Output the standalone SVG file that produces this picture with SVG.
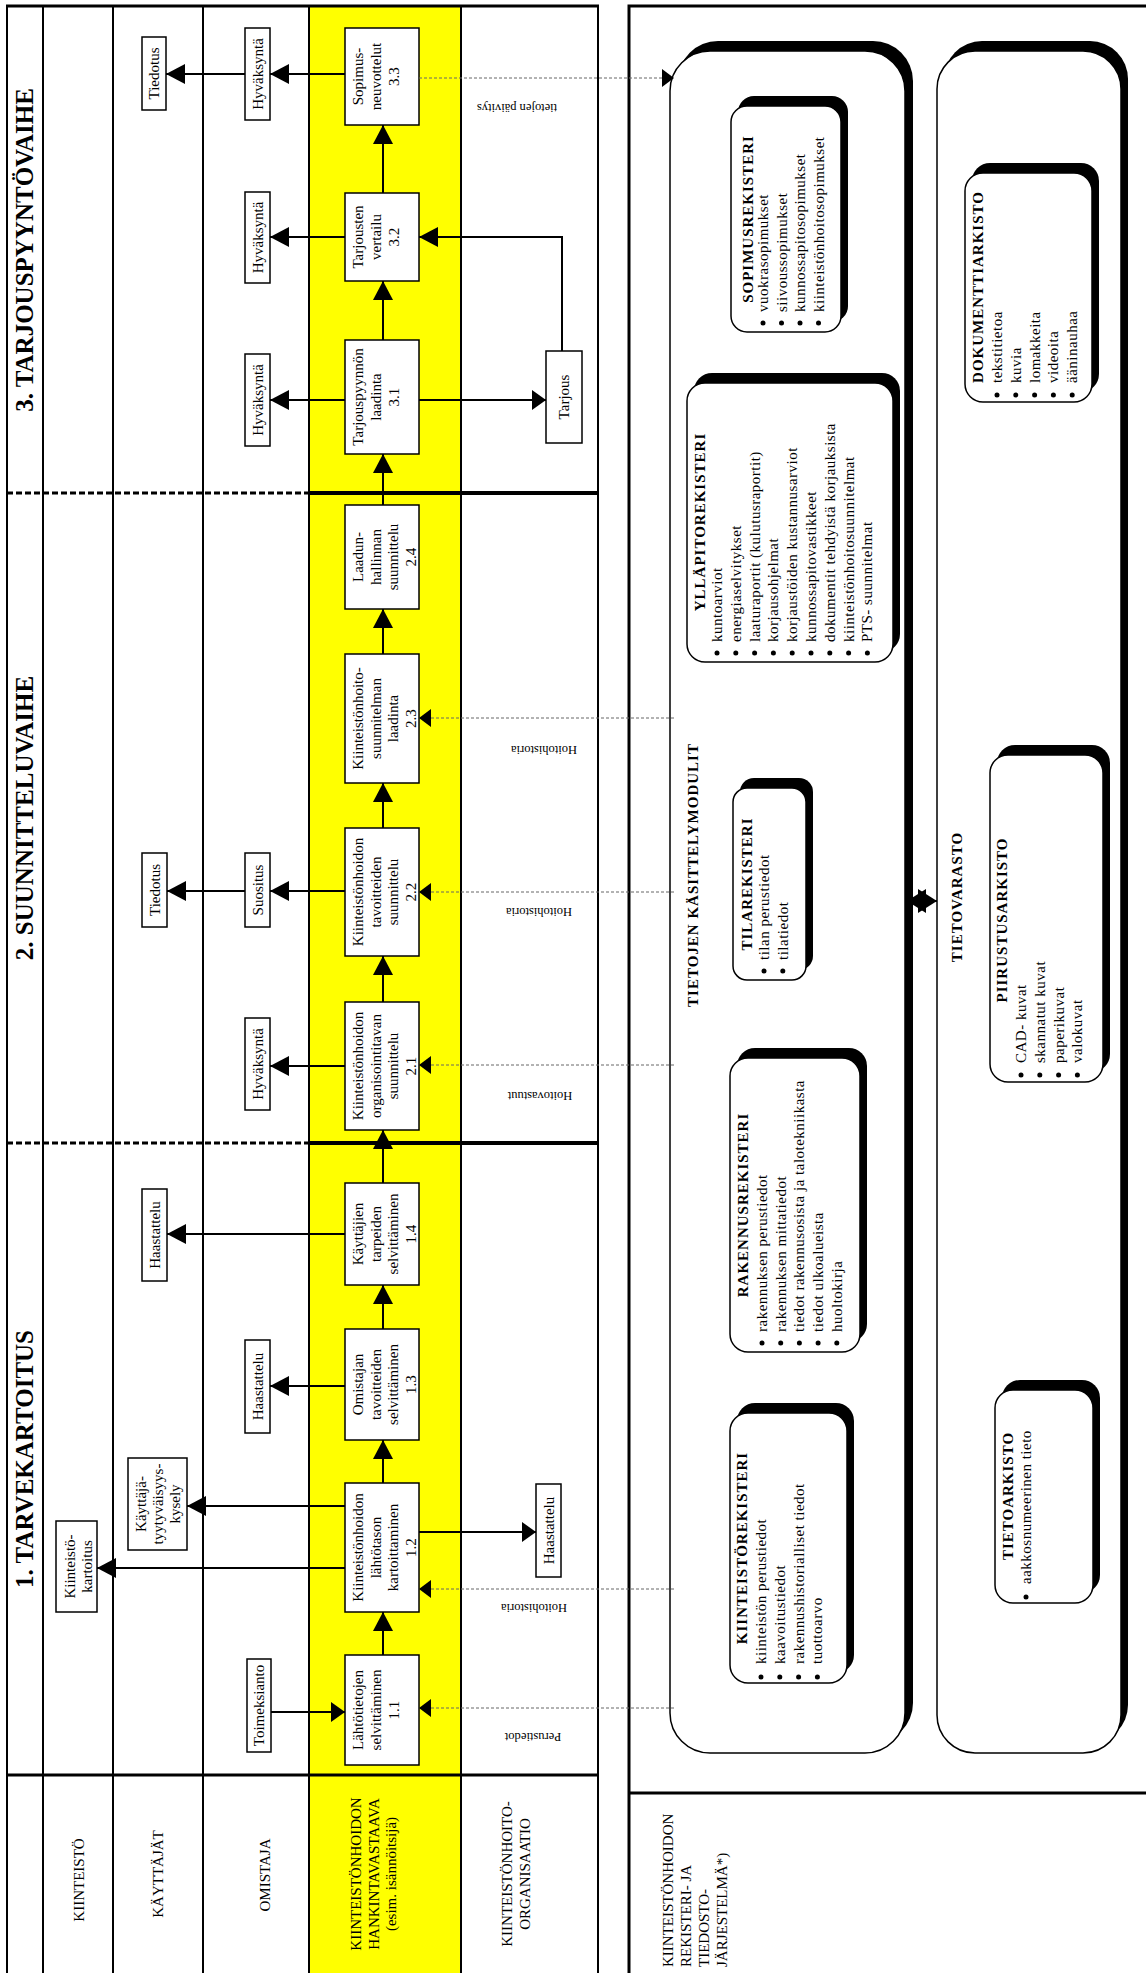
<svg xmlns="http://www.w3.org/2000/svg" width="1146" height="1973" viewBox="0 0 1146 1973">
<style>
.ln{stroke:#000;stroke-width:2;fill:none}
.bx{fill:#fff;stroke:#000;stroke-width:1.5}
.t{font-family:"Liberation Serif","Times New Roman",serif;font-size:15px;fill:#000}
.c{text-anchor:middle}
.h{font-weight:bold;font-size:25px}
.tb{font-weight:bold;letter-spacing:1px}
.it{letter-spacing:0.5px}
.s{font-family:"Liberation Serif","Times New Roman",serif;font-size:12.5px;fill:#000;text-anchor:middle}
.con{stroke:#000;stroke-width:2;fill:none}
.dash{stroke:#666;stroke-width:1;stroke-dasharray:3 2;fill:none}
.sh{fill:#000}
</style>
<defs>
<marker id="ah" markerUnits="userSpaceOnUse" markerWidth="19" markerHeight="20" refX="19" refY="10" orient="auto"><path d="M0,0 L19,10 L0,20 z"/></marker>
<marker id="ahs" markerUnits="userSpaceOnUse" markerWidth="14" markerHeight="20" refX="14" refY="10" orient="auto"><path d="M0,0 L14,10 L0,20 z"/></marker>
<marker id="ahd" markerUnits="userSpaceOnUse" markerWidth="12" markerHeight="18" refX="12" refY="9" orient="auto"><path d="M0,0 L12,9 L0,18 z"/></marker>
</defs>
<rect width="1146" height="1973" fill="#fff"/>

<!-- left panel frame -->
<g id="lanes">
<rect x="309" y="6" width="152" height="1967" fill="#ffff00"/>
<path class="ln" d="M7,6 V1973 M43,6 V1973 M113,6 V1973 M203,6 V1973 M309,6 V1973 M461,6 V1973 M598,6 V1973"/>
<path d="M6,6 H599" stroke="#000" stroke-width="3"/>
<path d="M7,493 H309 M7,1143 H309" stroke="#000" stroke-width="3" stroke-dasharray="6 3"/>
<path d="M309,493 H598 M309,1143 H598" stroke="#000" stroke-width="4"/>
<path d="M7,1775 H598" stroke="#000" stroke-width="3"/>
<text class="t h c" transform="translate(33,250) rotate(-90)">3. TARJOUSPYYNTÖVAIHE</text>
<text class="t h c" transform="translate(33,818) rotate(-90)">2. SUUNNITTELUVAIHE</text>
<text class="t h c" transform="translate(33,1459) rotate(-90)">1. TARVEKARTOITUS</text>
<text class="t c" transform="translate(84,1880) rotate(-90)">KIINTEISTÖ</text>
<text class="t c" transform="translate(163,1874) rotate(-90)">KÄYTTÄJÄT</text>
<text class="t c" transform="translate(270,1875) rotate(-90)">OMISTAJA</text>
<text class="t c" transform="translate(361,1874) rotate(-90)"><tspan x="0">KIINTEISTÖNHOIDON</tspan><tspan x="0" dy="17.5">HANKINTAVASTAAVA</tspan><tspan x="0" dy="17.5">(esim. isännöitsijä)</tspan></text>
<text class="t c" transform="translate(512,1874) rotate(-90)"><tspan x="0">KIINTEISTÖNHOITO-</tspan><tspan x="0" dy="18">ORGANISAATIO</tspan></text>
</g>

<!-- right panel frame -->
<g id="registers-frame">
<path d="M629,4.5 V1973 M627.5,6 H1146 M629,1793 H1146" stroke="#000" stroke-width="3" fill="none"/>
<text class="t" transform="translate(673,1967) rotate(-90)"><tspan x="0">KIINTEISTÖNHOIDON</tspan><tspan x="0" dy="18">REKISTERI- JA</tspan><tspan x="0" dy="18">TIEDOSTO-</tspan><tspan x="0" dy="18">JÄRJESTELMÄ*)</tspan></text>
</g>

<g id="modules">
<rect class="sh" x="678" y="41" width="235" height="1702" rx="40"/>
<rect class="bx" x="670" y="51" width="235" height="1702" rx="40"/>
<text class="t tb c" transform="translate(698,875) rotate(-90)">TIETOJEN KÄSITTELYMODULIT</text>
</g>
<g id="storage">
<rect class="sh" x="944" y="41" width="184" height="1702" rx="38"/>
<rect class="bx" x="937" y="51" width="184" height="1702" rx="38"/>
<text class="t tb c" transform="translate(962,897) rotate(-90)">TIETOVARASTO</text>
</g>

<g id="sopimusrekisteri">
<rect class="sh" x="738" y="96" width="110" height="226" rx="16"/>
<rect class="bx" x="731" y="106" width="110" height="226" rx="16"/>
<text class="t tb c" transform="translate(753,219) rotate(-90)">SOPIMUSREKISTERI</text>
<text class="t it" transform="translate(768,312) rotate(-90)"><tspan x="0">vuokrasopimukset</tspan><tspan x="0" dy="18.5">siivoussopimukset</tspan><tspan x="0" dy="18.5">kunnossapitosopimukset</tspan><tspan x="0" dy="18.5">kiinteistönhoitosopimukset</tspan></text>
<g class="sh"><circle cx="763" cy="323" r="2.5"/><circle cx="781.5" cy="323" r="2.5"/><circle cx="800" cy="323" r="2.5"/><circle cx="818.5" cy="323" r="2.5"/></g>
</g>

<g id="yllapitorekisteri">
<rect class="sh" x="694" y="373" width="206" height="279" rx="18"/>
<rect class="bx" x="687" y="383" width="206" height="279" rx="18"/>
<text class="t tb c" transform="translate(705,522) rotate(-90)">YLLÄPITOREKISTERI</text>
<text class="t it" transform="translate(722,642) rotate(-90)"><tspan x="0">kuntoarviot</tspan><tspan x="0" dy="18.8">energiaselvitykset</tspan><tspan x="0" dy="18.8">laaturaportit (kulutusraportit)</tspan><tspan x="0" dy="18.8">korjausohjelmat</tspan><tspan x="0" dy="18.8">korjaustöiden kustannusarviot</tspan><tspan x="0" dy="18.8">kunnossapitovastikkeet</tspan><tspan x="0" dy="18.8">dokumentit tehdyistä korjauksista</tspan><tspan x="0" dy="18.8">kiinteistönhoitosuunnitelmat</tspan><tspan x="0" dy="18.8">PTS- suunnitelmat</tspan></text>
<g class="sh"><circle cx="717" cy="653" r="2.5"/><circle cx="735.8" cy="653" r="2.5"/><circle cx="754.6" cy="653" r="2.5"/><circle cx="773.4" cy="653" r="2.5"/><circle cx="792.2" cy="653" r="2.5"/><circle cx="811" cy="653" r="2.5"/><circle cx="829.8" cy="653" r="2.5"/><circle cx="848.6" cy="653" r="2.5"/><circle cx="867.4" cy="653" r="2.5"/></g>
</g>

<g id="tilarekisteri">
<rect class="sh" x="740" y="778" width="73" height="192" rx="14"/>
<rect class="bx" x="733" y="788" width="73" height="192" rx="14"/>
<text class="t tb c" transform="translate(752,884) rotate(-90)">TILAREKISTERI</text>
<text class="t it" transform="translate(769,960) rotate(-90)"><tspan x="0">tilan perustiedot</tspan><tspan x="0" dy="18.8">tilatiedot</tspan></text>
<g class="sh"><circle cx="764" cy="971" r="2.5"/><circle cx="782.8" cy="971" r="2.5"/></g>
</g>

<g id="rakennusrekisteri">
<rect class="sh" x="737" y="1048" width="130" height="294" rx="18"/>
<rect class="bx" x="730" y="1058" width="130" height="294" rx="18"/>
<text class="t tb c" transform="translate(748,1205) rotate(-90)">RAKENNUSREKISTERI</text>
<text class="t it" transform="translate(767,1332) rotate(-90)"><tspan x="0">rakennuksen perustiedot</tspan><tspan x="0" dy="18.7">rakennuksen mittatiedot</tspan><tspan x="0" dy="18.7">tiedot rakennusosista ja talotekniikasta</tspan><tspan x="0" dy="18.7">tiedot ulkoalueista</tspan><tspan x="0" dy="18.7">huoltokirja</tspan></text>
<g class="sh"><circle cx="762" cy="1343" r="2.5"/><circle cx="780.7" cy="1343" r="2.5"/><circle cx="799.4" cy="1343" r="2.5"/><circle cx="818.1" cy="1343" r="2.5"/><circle cx="836.8" cy="1343" r="2.5"/></g>
</g>

<g id="kiinteistorekisteri">
<rect class="sh" x="737" y="1403" width="117" height="270" rx="18"/>
<rect class="bx" x="730" y="1413" width="117" height="270" rx="18"/>
<text class="t tb c" transform="translate(747,1548) rotate(-90)">KIINTEISTÖREKISTERI</text>
<text class="t it" transform="translate(766,1664) rotate(-90)"><tspan x="0">kiinteistön perustiedot</tspan><tspan x="0" dy="18.8">kaavoitustiedot</tspan><tspan x="0" dy="18.8">rakennushistorialliset tiedot</tspan><tspan x="0" dy="18.8">tuottoarvo</tspan></text>
<g class="sh"><circle cx="761" cy="1677" r="2.5"/><circle cx="779.8" cy="1677" r="2.5"/><circle cx="798.6" cy="1677" r="2.5"/><circle cx="817.4" cy="1677" r="2.5"/></g>
</g>

<g id="dokumenttiarkisto">
<rect class="sh" x="972" y="163" width="127" height="229" rx="18"/>
<rect class="bx" x="965" y="173" width="127" height="229" rx="18"/>
<text class="t tb c" transform="translate(983,287) rotate(-90)">DOKUMENTTIARKISTO</text>
<text class="t it" transform="translate(1002,383) rotate(-90)"><tspan x="0">tekstitietoa</tspan><tspan x="0" dy="18.8">kuvia</tspan><tspan x="0" dy="18.8">lomakkeita</tspan><tspan x="0" dy="18.8">videoita</tspan><tspan x="0" dy="18.8">ääninauhaa</tspan></text>
<g class="sh"><circle cx="997" cy="395" r="2.5"/><circle cx="1015.8" cy="395" r="2.5"/><circle cx="1034.6" cy="395" r="2.5"/><circle cx="1053.4" cy="395" r="2.5"/><circle cx="1072.2" cy="395" r="2.5"/></g>
</g>

<g id="piirustusarkisto">
<rect class="sh" x="997" y="745" width="113" height="327" rx="18"/>
<rect class="bx" x="990" y="755" width="113" height="327" rx="18"/>
<text class="t tb c" transform="translate(1007,920) rotate(-90)">PIIRUSTUSARKISTO</text>
<text class="t it" transform="translate(1026,1063) rotate(-90)"><tspan x="0">CAD- kuvat</tspan><tspan x="0" dy="18.8">skannatut kuvat</tspan><tspan x="0" dy="18.8">paperikuvat</tspan><tspan x="0" dy="18.8">valokuvat</tspan></text>
<g class="sh"><circle cx="1021" cy="1075" r="2.5"/><circle cx="1039.8" cy="1075" r="2.5"/><circle cx="1058.6" cy="1075" r="2.5"/><circle cx="1077.4" cy="1075" r="2.5"/></g>
</g>

<g id="tietoarkisto">
<rect class="sh" x="1002" y="1380" width="98" height="213" rx="18"/>
<rect class="bx" x="995" y="1390" width="98" height="213" rx="18"/>
<text class="t tb c" transform="translate(1013,1496) rotate(-90)">TIETOARKISTO</text>
<text class="t it" transform="translate(1031,1584) rotate(-90)">aakkosnumeerinen tieto</text>
<circle class="sh" cx="1026" cy="1597" r="2.5"/>
</g>

<!-- process boxes -->
<g id="p33"><rect class="bx" x="345" y="28" width="74" height="97"/><text class="t c" transform="translate(363,76.5) rotate(-90)"><tspan x="0">Sopimus-</tspan><tspan x="0" dy="18">neuvottelut</tspan><tspan x="0" dy="18">3.3</tspan></text></g>
<g id="p32"><rect class="bx" x="345" y="193" width="74" height="88"/><text class="t c" transform="translate(363,237) rotate(-90)"><tspan x="0">Tarjousten</tspan><tspan x="0" dy="18">vertailu</tspan><tspan x="0" dy="18">3.2</tspan></text></g>
<g id="p31"><rect class="bx" x="345" y="340" width="74" height="114"/><text class="t c" transform="translate(363,397) rotate(-90)"><tspan x="0">Tarjouspyynnön</tspan><tspan x="0" dy="18">laadinta</tspan><tspan x="0" dy="18">3.1</tspan></text></g>
<g id="p24"><rect class="bx" x="345" y="505" width="74" height="104"/><text class="t c" transform="translate(363,557) rotate(-90)"><tspan x="0">Laadun-</tspan><tspan x="0" dy="17.5">hallinnan</tspan><tspan x="0" dy="17.5">suunnittelu</tspan><tspan x="0" dy="17.5">2.4</tspan></text></g>
<g id="p23"><rect class="bx" x="345" y="654" width="74" height="129"/><text class="t c" transform="translate(363,718.5) rotate(-90)"><tspan x="0">Kiinteistönhoito-</tspan><tspan x="0" dy="17.5">suunnitelman</tspan><tspan x="0" dy="17.5">laadinta</tspan><tspan x="0" dy="17.5">2.3</tspan></text></g>
<g id="p22"><rect class="bx" x="345" y="828" width="74" height="128"/><text class="t c" transform="translate(363,892) rotate(-90)"><tspan x="0">Kiinteistönhoidon</tspan><tspan x="0" dy="17.5">tavoitteiden</tspan><tspan x="0" dy="17.5">suunnittelu</tspan><tspan x="0" dy="17.5">2.2</tspan></text></g>
<g id="p21"><rect class="bx" x="345" y="1002" width="74" height="128"/><text class="t c" transform="translate(363,1066) rotate(-90)"><tspan x="0">Kiinteistönhoidon</tspan><tspan x="0" dy="17.5">organisointitavan</tspan><tspan x="0" dy="17.5">suunnittelu</tspan><tspan x="0" dy="17.5">2.1</tspan></text></g>
<g id="p14"><rect class="bx" x="345" y="1183" width="74" height="102"/><text class="t c" transform="translate(363,1234) rotate(-90)"><tspan x="0">Käyttäjien</tspan><tspan x="0" dy="17.5">tarpeiden</tspan><tspan x="0" dy="17.5">selvittäminen</tspan><tspan x="0" dy="17.5">1.4</tspan></text></g>
<g id="p13"><rect class="bx" x="345" y="1329" width="74" height="111"/><text class="t c" transform="translate(363,1384.5) rotate(-90)"><tspan x="0">Omistajan</tspan><tspan x="0" dy="17.5">tavoitteiden</tspan><tspan x="0" dy="17.5">selvittäminen</tspan><tspan x="0" dy="17.5">1.3</tspan></text></g>
<g id="p12"><rect class="bx" x="345" y="1483" width="74" height="129"/><text class="t c" transform="translate(363,1547.5) rotate(-90)"><tspan x="0">Kiinteistönhoidon</tspan><tspan x="0" dy="17.5">lähtötason</tspan><tspan x="0" dy="17.5">kartoittaminen</tspan><tspan x="0" dy="17.5">1.2</tspan></text></g>
<g id="p11"><rect class="bx" x="345" y="1655" width="74" height="110"/><text class="t c" transform="translate(363,1710) rotate(-90)"><tspan x="0">Lähtötietojen</tspan><tspan x="0" dy="18">selvittäminen</tspan><tspan x="0" dy="18">1.1</tspan></text></g>

<!-- small boxes -->
<g id="hyv33"><rect class="bx" x="245" y="28" width="25" height="92"/><text class="t c" transform="translate(263,74) rotate(-90)">Hyväksyntä</text></g>
<g id="tied3"><rect class="bx" x="142" y="37" width="24" height="73"/><text class="t c" transform="translate(159,73.5) rotate(-90)">Tiedotus</text></g>
<g id="hyv32"><rect class="bx" x="245" y="192" width="25" height="91"/><text class="t c" transform="translate(263,237.5) rotate(-90)">Hyväksyntä</text></g>
<g id="hyv31"><rect class="bx" x="245" y="354" width="25" height="92"/><text class="t c" transform="translate(263,400) rotate(-90)">Hyväksyntä</text></g>
<g id="tarjous"><rect class="bx" x="546" y="351" width="36" height="92"/><text class="t c" transform="translate(569,397) rotate(-90)">Tarjous</text></g>
<g id="suositus"><rect class="bx" x="245" y="853" width="25" height="74"/><text class="t c" transform="translate(263,890) rotate(-90)">Suositus</text></g>
<g id="tied2"><rect class="bx" x="142" y="853" width="25" height="74"/><text class="t c" transform="translate(160,890) rotate(-90)">Tiedotus</text></g>
<g id="hyv21"><rect class="bx" x="245" y="1018" width="25" height="92"/><text class="t c" transform="translate(263,1064) rotate(-90)">Hyväksyntä</text></g>
<g id="haas14"><rect class="bx" x="142" y="1189" width="25" height="92"/><text class="t c" transform="translate(160,1235) rotate(-90)">Haastattelu</text></g>
<g id="haas13"><rect class="bx" x="245" y="1340" width="25" height="93"/><text class="t c" transform="translate(263,1386.5) rotate(-90)">Haastattelu</text></g>
<g id="kysely"><rect class="bx" x="128" y="1458" width="59" height="92"/><text class="t c" transform="translate(146,1504) rotate(-90)"><tspan x="0">Käyttäjä-</tspan><tspan x="0" dy="17">tyytyväisyys-</tspan><tspan x="0" dy="17">kysely</tspan></text></g>
<g id="kartoitus"><rect class="bx" x="56" y="1521" width="41" height="91"/><text class="t c" transform="translate(75,1566.5) rotate(-90)"><tspan x="0">Kiinteistö-</tspan><tspan x="0" dy="17">kartoitus</tspan></text></g>
<g id="haas12"><rect class="bx" x="536" y="1484" width="25" height="93"/><text class="t c" transform="translate(554,1530.5) rotate(-90)">Haastattelu</text></g>
<g id="toimeksianto"><rect class="bx" x="247" y="1659" width="24" height="93"/><text class="t c" transform="translate(264,1705.5) rotate(-90)">Toimeksianto</text></g>

<!-- labels -->
<g id="labels">
<text class="s" transform="translate(517,104) rotate(180)">tietojen päivitys</text>
<text class="s" transform="translate(544,746) rotate(180)">Hoitohistoria</text>
<text class="s" transform="translate(539,908) rotate(180)">Hoitohistoria</text>
<text class="s" transform="translate(540,1092) rotate(180)">Hoitovastuut</text>
<text class="s" transform="translate(534,1604) rotate(180)">Hoitohistoria</text>
<text class="s" transform="translate(533,1733) rotate(180)">Perustiedot</text>
</g>

<!-- connectors -->
<g id="connectors">
<g class="con" marker-end="url(#ah)">
<path d="M383,1655 V1612"/>
<path d="M383,1483 V1440"/>
<path d="M383,1329 V1285"/>
<path d="M383,1183 V1130"/>
<path d="M383,1002 V956"/>
<path d="M383,828 V783"/>
<path d="M383,654 V609"/>
<path d="M383,505 V454"/>
<path d="M383,340 V281"/>
<path d="M383,193 V125"/>
<path d="M345,74 H270"/>
<path d="M245,74 H166"/>
<path d="M345,237 H270"/>
<path d="M345,400 H270"/>
<path d="M562,351 V237 H419"/>
<path d="M345,891 H270"/>
<path d="M245,891 H167"/>
<path d="M345,1066 H270"/>
<path d="M345,1234 H167"/>
<path d="M345,1386 H270"/>
<path d="M345,1506 H187"/>
<path d="M345,1568 H97"/>
</g>
<g class="con" marker-end="url(#ahs)">
<path d="M419,400 H546"/>
<path d="M419,1532 H536"/>
<path d="M271,1712 H345"/>
</g>
<g class="dash" marker-end="url(#ahd)">
<path d="M419,78 H674"/>
<path d="M674,718 H419"/>
<path d="M674,892 H419"/>
<path d="M674,1065 H419"/>
<path d="M674,1589 H419"/>
<path d="M674,1708 H419"/>
</g>
<g id="double-arrow">
<path d="M907,901 H937" stroke="#000" stroke-width="2"/>
<path d="M907,901 L926,889 L926,913 z" fill="#000"/>
<path d="M937,901 L918,889 L918,913 z" fill="#000"/>
</g>
</g>
</svg>
